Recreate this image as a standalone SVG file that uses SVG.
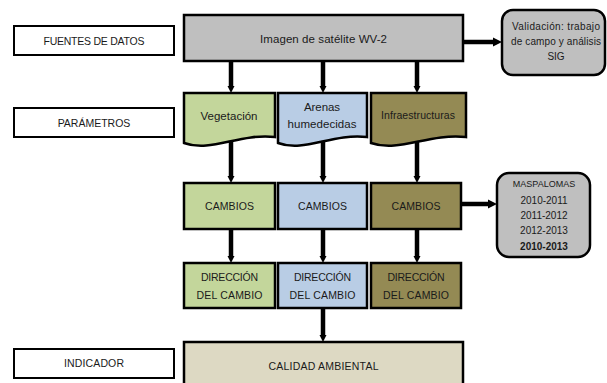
<svg xmlns="http://www.w3.org/2000/svg" width="607" height="383" viewBox="0 0 607 383">
<style>
text{font-family:"Liberation Sans",Arial,sans-serif;fill:#1a1a1a;text-anchor:middle;dominant-baseline:central}
.lbl{fill:#fff;stroke:#000;stroke-width:2}
.bx{stroke:#000;stroke-width:2.5}
.g{fill:#c3d69b}.b{fill:#b9cde5}.br{fill:#948a54}.gr{fill:#bfbfbf}.bg{fill:#ddd9c3}
.cn line{stroke:#000;stroke-width:4.5;fill:none}
.cs{font-size:10.5px}
.lc{font-size:11.5px}
</style>
<defs>
<marker id="ah" viewBox="0 0 10 10" refX="0" refY="5" markerUnits="userSpaceOnUse" markerWidth="7" markerHeight="11" orient="auto"><path d="M0,0 L10,5 L0,10 Z" fill="#000"/></marker>
<marker id="ahb" viewBox="0 0 10 10" refX="0" refY="5" markerUnits="userSpaceOnUse" markerWidth="9" markerHeight="13" orient="auto"><path d="M0,0 L10,5 L0,10 Z" fill="#000"/></marker>
</defs>
<g id="connectors" class="cn">
<line x1="231" y1="61" x2="231" y2="86" marker-end="url(#ah)"/>
<line x1="323" y1="61" x2="323" y2="86" marker-end="url(#ah)"/>
<line x1="417" y1="61" x2="417" y2="86" marker-end="url(#ah)"/>
<line x1="463" y1="42" x2="493" y2="42" marker-end="url(#ahb)"/>
<line x1="231" y1="140" x2="231" y2="176" marker-end="url(#ah)"/>
<line x1="323" y1="140" x2="323" y2="176" marker-end="url(#ah)"/>
<line x1="417" y1="140" x2="417" y2="176" marker-end="url(#ah)"/>
<line x1="461" y1="204" x2="488" y2="204" marker-end="url(#ahb)"/>
<line x1="231" y1="229" x2="231" y2="256" marker-end="url(#ah)"/>
<line x1="323" y1="229" x2="323" y2="256" marker-end="url(#ah)"/>
<line x1="417" y1="229" x2="417" y2="256" marker-end="url(#ah)"/>
<line x1="323" y1="308" x2="323" y2="335" marker-end="url(#ah)"/>
</g>
<g id="lbl-fuentes"><rect class="lbl" x="14" y="26" width="160" height="29"/><text class="cs" x="94" y="41" textLength="101">FUENTES DE DATOS</text></g>
<g id="lbl-parametros"><rect class="lbl" x="14" y="108" width="160" height="29"/><text class="cs" x="94" y="123">PARÁMETROS</text></g>
<g id="lbl-indicador"><rect class="lbl" x="14" y="349" width="160" height="29"/><text class="cs" x="94" y="363" textLength="60">INDICADOR</text></g>
<g id="imagen"><rect class="bx gr" x="184" y="15" width="279" height="46"/><text class="lc" x="323.5" y="39" textLength="127">Imagen de satélite WV-2</text></g>
<g id="validacion"><rect class="bx gr" x="502" y="10" width="103" height="65" rx="11"/><text x="556" y="26" style="font-size:10px" textLength="88">Validación: trabajo</text><text x="556" y="41" style="font-size:10px" textLength="90">de campo y análisis</text><text x="556" y="56" style="font-size:10px">SIG</text></g>
<g id="vegetacion"><path class="bx g" d="M184,93 H275 V137 C238.6,133 211.3,153 184,143 Z"/><text class="lc" x="229" y="116" textLength="57">Vegetación</text></g>
<g id="arenas"><path class="bx b" d="M278,93 H367 V137 C331.4,133 304.7,153 278,143 Z"/><text class="lc" x="322" y="107" textLength="36">Arenas</text><text class="lc" x="322" y="124" textLength="69">humedecidas</text></g>
<g id="infra"><path class="bx br" d="M371,93 H466 V137 C428,133 399.5,153 371,143 Z"/><text x="418" y="115" style="font-size:10.5px" textLength="74">Infraestructuras</text></g>
<g id="cambios-v"><rect class="bx g" x="184" y="183" width="91" height="46"/><text class="cs" x="229.5" y="206" textLength="49">CAMBIOS</text></g>
<g id="cambios-a"><rect class="bx b" x="278" y="183" width="89" height="46"/><text class="cs" x="322.5" y="206" textLength="49">CAMBIOS</text></g>
<g id="cambios-i"><rect class="bx br" x="371" y="183" width="90" height="46"/><text class="cs" x="416" y="206" textLength="49">CAMBIOS</text></g>
<g id="maspalomas"><rect class="bx gr" x="497" y="173" width="93" height="84" rx="12"/>
<text x="544" y="184" style="font-size:9px">MASPALOMAS</text>
<text x="544" y="200" style="font-size:10px">2010-2011</text>
<text x="544" y="215" style="font-size:10px">2011-2012</text>
<text x="544" y="230" style="font-size:10px">2012-2013</text>
<text x="544" y="246" style="font-size:10px;font-weight:bold">2010-2013</text></g>
<g id="dir-v"><rect class="bx g" x="184" y="263" width="91" height="45"/><text class="cs" x="229.5" y="277" textLength="57">DIRECCIÓN</text><text class="cs" x="229.5" y="295" textLength="66">DEL CAMBIO</text></g>
<g id="dir-a"><rect class="bx b" x="278" y="263" width="89" height="45"/><text class="cs" x="322.5" y="277" textLength="57">DIRECCIÓN</text><text class="cs" x="322.5" y="295" textLength="66">DEL CAMBIO</text></g>
<g id="dir-i"><rect class="bx br" x="371" y="263" width="90" height="45"/><text class="cs" x="416" y="277" textLength="57">DIRECCIÓN</text><text class="cs" x="416" y="295" textLength="66">DEL CAMBIO</text></g>
<g id="calidad"><rect class="bx bg" x="184" y="342" width="279" height="45"/><text class="cs" x="323.5" y="366" textLength="110">CALIDAD AMBIENTAL</text></g>
</svg>
